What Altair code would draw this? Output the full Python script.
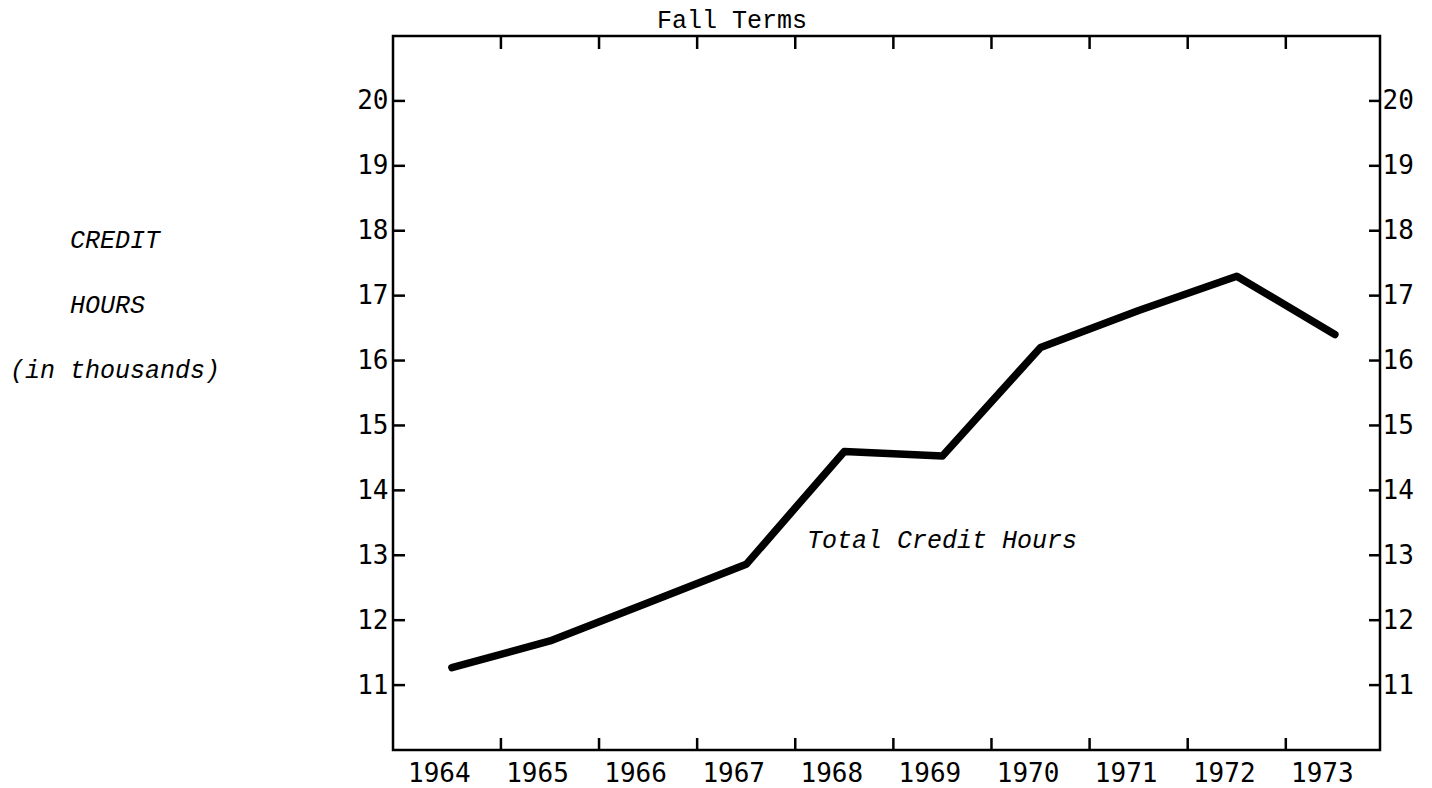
import altair as alt
import pandas as pd

# ---- data ----
years = [1964, 1965, 1966, 1967, 1968, 1969, 1970, 1971, 1972, 1973]
credit_hours = [11.27, 11.68, 12.27, 12.86, 14.60, 14.53, 16.20, 16.77, 17.30, 16.40]
y_tick_values = [11, 12, 13, 14, 15, 16, 17, 18, 19, 20]
x_tick_marks = [1964.5, 1965.5, 1966.5, 1967.5, 1968.5, 1969.5, 1970.5, 1971.5, 1972.5]
x_domain = [1963.40, 1973.46]
y_domain = [10, 21]
annotation_text = ["Total Credit Hours"]
annotation_year = [1967.62]
annotation_value = [13.11]
chart_title = "Fall Terms"
y_title_main = ["CREDIT", "HOURS"]
y_title_unit = "(in thousands)"

W, H = 987, 714
NUMFONT = "DejaVu Sans Mono"
TYPEFONT = "Liberation Mono"
FS = 25
NFS = 26

df = pd.DataFrame({"year": years, "hours": credit_hours})
ydf = pd.DataFrame({"v": y_tick_values})
xdf = pd.DataFrame({"v": x_tick_marks})
ann = pd.DataFrame({"x": annotation_year, "y": annotation_value, "t": annotation_text})

xscale = alt.Scale(domain=x_domain, nice=False, zero=False)
yscale = alt.Scale(domain=y_domain, nice=False, zero=False)

label_style = dict(
    ticks=False, domain=False, grid=False,
    labelFont=NUMFONT, labelFontSize=NFS, labelColor="black",
    labelFlush=False, labelOverlap=False,
)

x_axis = alt.Axis(values=years, format="d", labelOffset=-13, labelPadding=10,
                  title=None, **label_style)

line = alt.Chart(df).mark_line(
    color="black", strokeWidth=7.5, strokeCap="round", strokeJoin="round"
).encode(
    x=alt.X("year:Q", scale=xscale, axis=x_axis),
    y=alt.Y("hours:Q", scale=yscale,
            axis=alt.Axis(orient="left", values=y_tick_values, format="d",
                          labelPadding=5, title=None, **label_style)),
)

left_ticks = alt.Chart(ydf).mark_rule(color="black", strokeWidth=2.5).encode(
    y=alt.Y("v:Q", scale=yscale, axis=None),
    x=alt.value(0), x2=alt.value(12),
)

right_ticks = alt.Chart(ydf).mark_rule(color="black", strokeWidth=2.5).encode(
    y=alt.Y("v:Q", scale=yscale,
            axis=alt.Axis(orient="right", values=y_tick_values, format="d",
                          labelPadding=2, title=None, **label_style)),
    x=alt.value(W - 11), x2=alt.value(W),
)

bottom_ticks = alt.Chart(xdf).mark_rule(color="black", strokeWidth=2.5).encode(
    x=alt.X("v:Q", scale=xscale, axis=x_axis),
    y=alt.value(H), y2=alt.value(H - 12),
)

top_ticks = alt.Chart(xdf).mark_rule(color="black", strokeWidth=2.5).encode(
    x=alt.X("v:Q", scale=xscale, axis=x_axis),
    y=alt.value(0), y2=alt.value(13),
)

annotation = alt.Chart(ann).mark_text(
    align="left", baseline="alphabetic", font=TYPEFONT, fontSize=FS,
    fontStyle="italic", color="black",
).encode(
    x=alt.X("x:Q", scale=xscale, axis=x_axis),
    y=alt.Y("y:Q", scale=yscale, axis=None),
    text="t:N",
)

title_mark = alt.Chart(pd.DataFrame({"t": [chart_title]})).mark_text(
    align="left", baseline="alphabetic", font=TYPEFONT, fontSize=FS,
    color="black",
).encode(x=alt.value(264), y=alt.value(-8), text="t:N")

ytitle_main = alt.Chart(pd.DataFrame({"t": [0]})).mark_text(
    align="left", baseline="alphabetic", font=TYPEFONT, fontSize=FS,
    fontStyle="italic", color="black", lineHeight=65, text=y_title_main,
).encode(x=alt.value(-323), y=alt.value(212))

ytitle_unit = alt.Chart(pd.DataFrame({"t": [y_title_unit]})).mark_text(
    align="left", baseline="alphabetic", font=TYPEFONT, fontSize=FS,
    fontStyle="italic", color="black",
).encode(x=alt.value(-383), y=alt.value(342), text="t:N")

chart = alt.layer(
    line, left_ticks, right_ticks, bottom_ticks, top_ticks, annotation,
    title_mark, ytitle_main, ytitle_unit
).resolve_scale(
    y="independent"
).properties(
    width=W, height=H,
    padding={"left": 385, "top": 28, "right": 44, "bottom": 40},
    autosize=alt.AutoSizeParams(type="none"),
    background="white",
).configure_view(
    stroke="black", strokeWidth=2.5
)

chart.save("out.html", embed_options={"renderer": "svg", "actions": False})
